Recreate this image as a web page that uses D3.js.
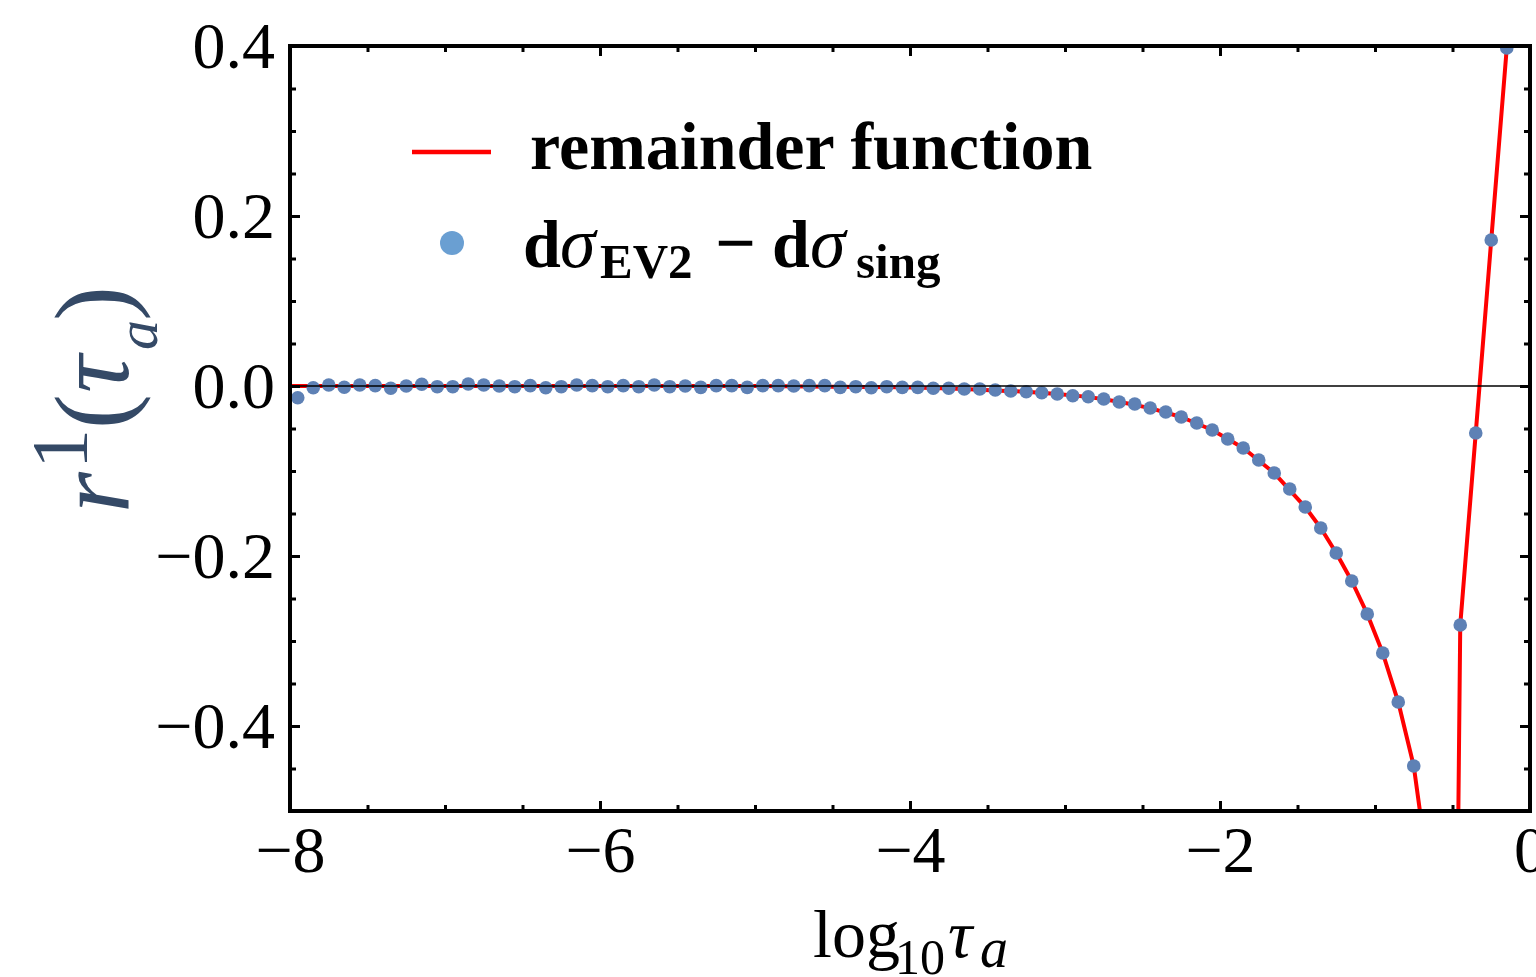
<!DOCTYPE html>
<html>
<head>
<meta charset="utf-8">
<script src="https://cdn.jsdelivr.net/npm/d3@7"></script>
<style>
  html, body { margin: 0; padding: 0; background: #fff; }
  svg { display: block; }
  text { font-family: "Liberation Serif", "Times New Roman", serif; }
</style>
</head>
<body>
<svg id="chart" width="1536" height="977"></svg>
<script>
// ---------- data ----------
const dotX = [-7.95,-7.85,-7.75,-7.65,-7.55,-7.45,-7.35,-7.25,-7.15,-7.05,
  -6.95,-6.85,-6.75,-6.65,-6.55,-6.45,-6.35,-6.25,-6.15,-6.05,
  -5.95,-5.85,-5.75,-5.65,-5.55,-5.45,-5.35,-5.25,-5.15,-5.05,
  -4.95,-4.85,-4.75,-4.65,-4.55,-4.45,-4.35,-4.25,-4.15,-4.05,
  -3.95,-3.85,-3.75,-3.65,-3.55,-3.45,-3.35,-3.25,-3.15,-3.05,
  -2.95,-2.85,-2.75,-2.65,-2.55,-2.45,-2.35,-2.25,-2.15,-2.05,
  -1.95,-1.85,-1.75,-1.65,-1.55,-1.45,-1.35,-1.25,-1.15,-1.05,
  -0.95,-0.85,-0.75,-0.55,-0.45,-0.35,-0.25,-0.15];
const dotY = [-0.0138,-0.0020,0.0012,-0.0015,0.0012,0.0004,-0.0027,0.0000,0.0020,-0.0008,
  -0.0008,0.0024,0.0012,0.0000,-0.0008,0.0004,-0.0020,-0.0008,0.0012,0.0004,
  -0.0008,0.0004,-0.0008,0.0012,-0.0008,0.0000,-0.0016,0.0004,0.0004,-0.0016,
  0.0004,0.0004,0.0000,0.0004,0.0004,-0.0016,-0.0008,-0.0020,-0.0008,-0.0016,
  -0.0016,-0.0027,-0.0027,-0.0035,-0.0035,-0.0047,-0.0059,-0.0067,-0.0079,-0.0094,
  -0.0114,-0.0126,-0.0153,-0.0188,-0.0212,-0.0259,-0.0306,-0.0365,-0.0435,-0.0518,
  -0.0624,-0.0729,-0.0871,-0.1024,-0.1212,-0.1424,-0.1671,-0.1965,-0.2294,-0.2682,
  -0.3141,-0.3718,-0.4471,-0.5100,-0.2812,-0.0553,0.1718,0.3976];

const lineX = [-8,-7,-6,-5,-4.5,-4.05,-3.85,-3.65,-3.45,-3.25,-3.05,-2.85,-2.65,-2.45,
  -2.25,-2.05,-1.85,-1.65,-1.45,-1.35,-1.25,-1.15,-1.05,-0.95,-0.85,-0.75,-0.65,
  -0.5,-0.465,-0.45,-0.35,-0.25,-0.15,-0.10];
const lineY = [0,0,0,0,-0.0008,-0.0016,-0.0025,-0.0035,-0.0052,-0.0068,-0.0094,-0.0128,-0.0185,-0.0260,
  -0.0365,-0.0518,-0.0729,-0.1024,-0.1424,-0.1671,-0.1965,-0.2294,-0.2682,-0.3141,-0.3718,-0.4471,-0.58,
  -5,-0.55,-0.2812,-0.0553,0.1718,0.3976,0.51];

const xMajor = [-8,-6,-4,-2,0];
const xMinor = [-7.5,-7,-6.5,-5.5,-5,-4.5,-3.5,-3,-2.5,-1.5,-1,-0.5];
const yMajor = [-0.4,-0.2,0.0,0.2,0.4];
const yMinor = [-0.5,-0.45,-0.35,-0.3,-0.25,-0.15,-0.1,-0.05,0.05,0.1,0.15,0.25,0.3,0.35];
const xTickLabels = ["\u22128","\u22126","\u22124","\u22122","0"];
const yTickLabels = ["\u22120.4","\u22120.2","0.0","0.2","0.4"];

// ---------- layout ----------
const L = 290, R = 1530, T = 46, B = 811;
const svg = d3.select("#chart");
const x = d3.scaleLinear().domain([-8, 0]).range([L, R]);
const y = d3.scaleLinear().domain([-0.5, 0.4]).range([B, T]);

svg.append("defs").append("clipPath").attr("id", "clip")
  .append("rect").attr("x", L).attr("y", T).attr("width", R - L).attr("height", B - T);

const plot = svg.append("g").attr("clip-path", "url(#clip)");

// red line
const lineData = lineX.map((v, i) => [v, lineY[i]]);
plot.append("path")
  .datum(lineData)
  .attr("fill", "none")
  .attr("stroke", "#ff0000")
  .attr("stroke-width", 4)
  .attr("stroke-linejoin", "round")
  .attr("d", d3.line().x(d => x(d[0])).y(d => y(d[1])));

// dots
const dots = dotX.map((v, i) => [v, dotY[i]]);
plot.selectAll("circle.dot").data(dots).enter().append("circle")
  .attr("class", "dot")
  .attr("cx", d => x(d[0])).attr("cy", d => y(d[1]))
  .attr("r", 6.8)
  .attr("fill", "#5e81b5");

// zero axis line
plot.append("line")
  .attr("x1", L).attr("x2", R).attr("y1", y(0)).attr("y2", y(0))
  .attr("stroke", "#000").attr("stroke-width", 1.4);

// ---------- axes (inward ticks on all sides) ----------
function styleAxis(g) {
  g.select(".domain").remove();
  g.selectAll(".tick line").attr("stroke", "#000").attr("stroke-width", 3);
  g.selectAll(".tick text").attr("fill", "#000")
    .style("font-family", '"Liberation Serif", "Times New Roman", serif');
}
const fs = 66;
// bottom
svg.append("g").attr("transform", `translate(0,${B})`)
  .call(d3.axisBottom(x).tickValues(xMajor).tickSize(-10).tickPadding(14)
    .tickFormat((d, i) => xTickLabels[i]))
  .attr("font-size", fs).call(styleAxis);
svg.append("g").attr("transform", `translate(0,${B})`)
  .call(d3.axisBottom(x).tickValues(xMinor).tickSize(-6).tickFormat(""))
  .call(styleAxis);
// top
svg.append("g").attr("transform", `translate(0,${T})`)
  .call(d3.axisTop(x).tickValues(xMajor).tickSize(-10).tickFormat(""))
  .call(styleAxis);
svg.append("g").attr("transform", `translate(0,${T})`)
  .call(d3.axisTop(x).tickValues(xMinor).tickSize(-6).tickFormat(""))
  .call(styleAxis);
// left
svg.append("g").attr("transform", `translate(${L},0)`)
  .call(d3.axisLeft(y).tickValues(yMajor).tickSize(-10).tickPadding(15)
    .tickFormat((d, i) => yTickLabels[i]))
  .attr("font-size", fs).call(styleAxis);
svg.append("g").attr("transform", `translate(${L},0)`)
  .call(d3.axisLeft(y).tickValues(yMinor).tickSize(-6).tickFormat(""))
  .call(styleAxis);
// right
svg.append("g").attr("transform", `translate(${R},0)`)
  .call(d3.axisRight(y).tickValues(yMajor).tickSize(-10).tickFormat(""))
  .call(styleAxis);
svg.append("g").attr("transform", `translate(${R},0)`)
  .call(d3.axisRight(y).tickValues(yMinor).tickSize(-6).tickFormat(""))
  .call(styleAxis);

// frame
svg.append("rect")
  .attr("x", L).attr("y", T).attr("width", R - L).attr("height", B - T)
  .attr("fill", "none").attr("stroke", "#000").attr("stroke-width", 4);

// ---------- axis labels ----------
const xl = svg.append("text").attr("font-size", 68).attr("fill", "#000");
xl.append("tspan").attr("x", 813).attr("y", 957).text("log");
xl.append("tspan").attr("x", 895).attr("y", 974).attr("font-size", 50).text("10");
xl.append("tspan").attr("x", 948).attr("y", 957).attr("font-style", "italic").text("\u03c4");
xl.append("tspan").attr("x", 980).attr("y", 967).attr("font-size", 56).attr("font-style", "italic").text("a");

const yl = svg.append("text")
  .attr("transform", "translate(128,513) rotate(-90)")
  .attr("font-size", 105).attr("fill", "#344966");
yl.append("tspan").attr("x", 0).attr("y", 0).attr("font-style", "italic").text("r");
yl.append("tspan").attr("x", 44).attr("y", -41).attr("font-size", 80).text("1");
yl.append("tspan").attr("x", 84).attr("y", 0).text("(");
yl.append("tspan").attr("x", 120).attr("y", 0).attr("font-style", "italic").text("\u03c4");
yl.append("tspan").attr("x", 163).attr("y", 29).attr("font-size", 60).attr("font-style", "italic").text("a");
yl.append("tspan").attr("x", 192).attr("y", 0).text(")");

// ---------- legend ----------
svg.append("line").attr("x1", 412).attr("x2", 491).attr("y1", 152).attr("y2", 152)
  .attr("stroke", "#ff0000").attr("stroke-width", 4.5);
svg.append("text").attr("x", 530).attr("y", 169)
  .attr("font-size", 68).attr("font-weight", "bold").attr("fill", "#000")
  .text("remainder function");

svg.append("circle").attr("cx", 452).attr("cy", 243).attr("r", 12).attr("fill", "#6a9fd2");
const lg = svg.append("text").attr("y", 267).attr("font-size", 68)
  .attr("font-weight", "bold").attr("fill", "#000");
lg.append("tspan").attr("x", 523).attr("y", 267).text("d");
lg.append("tspan").attr("x", 560).attr("y", 267).attr("font-style", "italic")
  .attr("font-weight", "normal").attr("font-size", 72).text("\u03c3");
lg.append("tspan").attr("x", 600).attr("y", 278).attr("font-size", 49).text("EV2");
lg.append("tspan").attr("x", 715).attr("y", 267).attr("font-size", 72).text("\u2212");
lg.append("tspan").attr("x", 772).attr("y", 267).text("d");
lg.append("tspan").attr("x", 810).attr("y", 267).attr("font-style", "italic")
  .attr("font-weight", "normal").attr("font-size", 72).text("\u03c3");
lg.append("tspan").attr("x", 856).attr("y", 278).attr("font-size", 49).text("sing");
</script>
</body>
</html>
